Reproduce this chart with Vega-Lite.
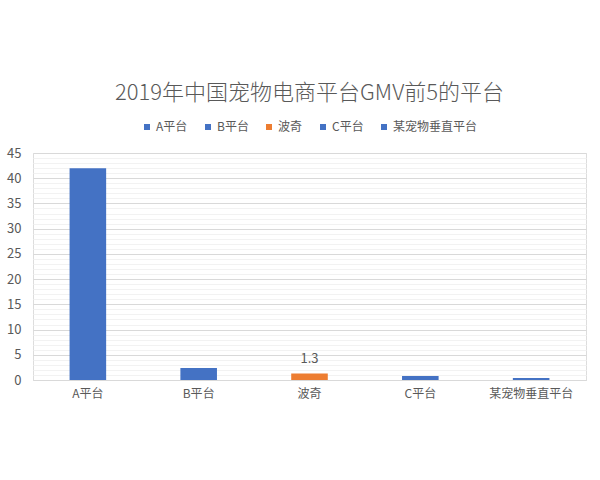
{
  "$schema": "https://vega.github.io/schema/vega-lite/v6.json",
  "width": 600,
  "height": 480,
  "autosize": {"type": "fit", "contains": "padding"},
  "padding": {"top": 82, "left": 6, "right": 14, "bottom": 81},
  "background": "white",
  "config": {"legend": {"layout": {"top": {"anchor": "middle"}}}},
  "title": {
    "text": "2019年中国宠物电商平台GMV前5的平台",
    "fontSize": 22,
    "fontWeight": 300,
    "font": "Noto Sans CJK SC",
    "color": "#595959",
    "offset": 16
  },
  "data": {
    "values": [
      {"platform": "A平台", "gmv": 42},
      {"platform": "B平台", "gmv": 2.4},
      {"platform": "波奇", "gmv": 1.3},
      {"platform": "C平台", "gmv": 0.8},
      {"platform": "某宠物垂直平台", "gmv": 0.4}
    ]
  },
  "encoding": {
    "x": {
      "field": "platform",
      "type": "nominal",
      "sort": null,
      "title": null,
      "scale": {"paddingInner": 0.67, "paddingOuter": 0.33},
      "axis": {
        "labelAngle": 0,
        "labelFontSize": 12,
        "labelColor": "#595959",
        "labelFont": "Noto Sans CJK SC",
        "labelPadding": 8,
        "ticks": false,
        "domainColor": "#d9d9d9",
        "grid": false
      }
    },
    "y": {
      "field": "gmv",
      "type": "quantitative",
      "title": null,
      "scale": {"domain": [0, 45]},
      "axis": {
        "values": [0, 1, 2, 3, 4, 5, 6, 7, 8, 9, 10, 11, 12, 13, 14, 15, 16, 17, 18, 19, 20, 21, 22, 23, 24, 25, 26, 27, 28, 29, 30, 31, 32, 33, 34, 35, 36, 37, 38, 39, 40, 41, 42, 43, 44, 45],
        "labelExpr": "datum.value % 5 === 0 ? datum.label : ''",
        "labelFontSize": 13,
        "labelColor": "#595959",
        "labelFont": "Noto Sans CJK SC",
        "labelPadding": 12,
        "ticks": false,
        "domain": false,
        "gridColor": {
          "condition": {"test": "datum.value % 5 === 0", "value": "#d9d9d9"},
          "value": "#f2f2f2"
        }
      }
    }
  },
  "layer": [
    {
      "mark": {"type": "bar"},
      "encoding": {
        "color": {
          "field": "platform",
          "type": "nominal",
          "sort": null,
          "scale": {
            "domain": ["A平台", "B平台", "波奇", "C平台", "某宠物垂直平台"],
            "range": ["#4472c4", "#4472c4", "#ed7d31", "#4472c4", "#4472c4"]
          },
          "legend": {
            "orient": "top",
            "direction": "horizontal",
            "title": null,
            "symbolType": "square",
            "symbolSize": 36,
            "labelFontSize": 12,
            "labelColor": "#595959",
            "labelFont": "Noto Sans CJK SC",
            "columnPadding": 14,
            "symbolOffset": 0,
            "labelOffset": 3,
            "offset": 20
          }
        }
      }
    },
    {
      "transform": [{"filter": "datum.platform === '波奇'"}],
      "mark": {"type": "text", "dy": -14, "fontSize": 13, "color": "#595959", "font": "Noto Sans CJK SC"},
      "encoding": {"text": {"field": "gmv", "type": "quantitative", "format": ".1f"}}
    }
  ]
}
